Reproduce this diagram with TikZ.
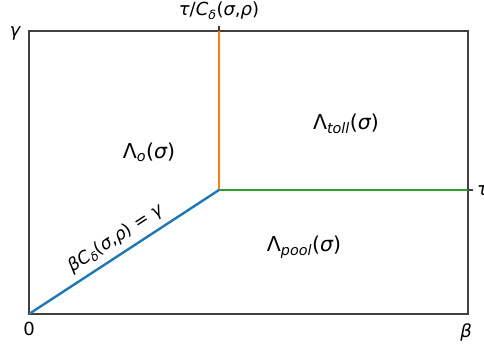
\documentclass[tikz,border=0pt]{standalone}
\usepackage{fontspec}
\setmainfont{DejaVu Sans}
\newcommand{\mi}[1]{{\itshape #1}}
\newcommand{\sbs}[1]{\textsubscript{#1}}
\begin{document}
\begin{tikzpicture}[x=1pt,y=-1pt,
  frame/.style={draw=black!75,line width=1.2pt},
  seg/.style={line width=2.4pt},
  lbl/.style={font=\fontsize{20.5}{22}\selectfont,inner sep=0pt,text=black},
  ticklbl/.style={font=\fontsize{18}{20}\selectfont,inner sep=0pt,text=black}]
\useasboundingbox (0,0) rectangle (484,348);
\fill[white] (0,0) rectangle (484,348);
\coordinate (O) at (29,314);
\coordinate (P) at (219,190);
\coordinate (T) at (219,31);
\coordinate (R) at (468,190);
\coordinate (TT) at (219,26);
\coordinate (RT) at (473,190);
\draw[frame] (29,31) rectangle (468,314);
\draw[frame] (T) -- (TT);
\draw[frame] (R) -- (RT);
\draw[seg,color={rgb,255:red,255;green,127;blue,14}] (P) -- (T);
\draw[seg,color={rgb,255:red,44;green,160;blue,44}] (P) -- (R);
\draw[seg,color={rgb,255:red,31;green,119;blue,180}] (O) -- node[pos=0.5,above=6pt,sloped,ticklbl,font=\fontsize{17.5}{19}\selectfont]{\mi{β}\mi{C}\sbs{\mi{δ}}(\mi{σ},\mi{ρ}) = \mi{γ}} (P);
\node[ticklbl] (top) at (219,11) {\mi{τ}/\mi{C}\sbs{\mi{δ}}(\mi{σ},\mi{ρ})};
\node[ticklbl] (gam) at (15,33) {\mi{γ}};
\node[ticklbl] (zero) at (29,329) {0};
\node[ticklbl] (bet) at (466,332) {\mi{β}};
\node[ticklbl,anchor=west] (tau) at (477,191) {\mi{τ}};
\node[lbl] (lo) at (149,152) {Λ\sbs{\mi{o}}(\mi{σ})};
\node[lbl] (lt) at (346,124) {Λ\sbs{\mi{toll}}(\mi{σ})};
\node[lbl] (lp) at (304,247) {Λ\sbs{\mi{pool}}(\mi{σ})};
\end{tikzpicture}
\end{document}
